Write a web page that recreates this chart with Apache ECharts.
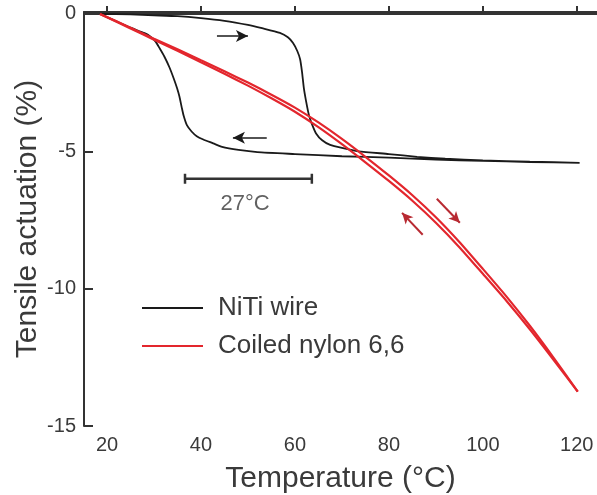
<!DOCTYPE html>
<html>
<head>
<meta charset="utf-8" />
<title>Tensile actuation</title>
<script src="https://cdn.jsdelivr.net/npm/echarts@6/dist/echarts.min.js"></script>
<style>
html, body { margin: 0; padding: 0; background: #fff; }
#chart { width: 597px; height: 495px; }
</style>
</head>
<body>
<div id="chart"></div>
<script>
// tick labels
var xTicks = [20, 40, 60, 80, 100, 120];
var yTicks = [0, -5, -10, -15];

// NiTi wire, heating branch (upper) then cooling branch (lower)
var nitiHeat = [[18.5,0],[25,-0.02],[30,-0.05],[35,-0.08],[40,-0.15],[45,-0.25],[50,-0.4],[53,-0.52],
  [56.8,-0.69],[58.5,-0.85],[59.6,-1.06],[60.5,-1.35],[61.1,-1.65],[61.5,-2.1],[61.9,-2.7],[62.4,-3.2],
  [63.0,-3.7],[63.6,-4.0],[64.5,-4.35],[65.8,-4.6],[67.5,-4.77],[70,-4.88],[73.5,-5.0],[80,-5.1],
  [86,-5.2],[92,-5.27],[100,-5.33],[110,-5.38],[120.6,-5.42]];
var nitiCool = [[120.6,-5.42],[110,-5.39],[100,-5.35],[90,-5.3],[80,-5.23],[70,-5.18],[60,-5.1],[52,-5.03],
  [48,-4.95],[44.5,-4.84],[42.6,-4.71],[40.5,-4.57],[39.1,-4.45],[38,-4.28],[37,-4.05],[36.3,-3.7],
  [35.9,-3.4],[35.4,-3.0],[34.9,-2.7],[34.2,-2.35],[33.3,-1.95],[32.2,-1.55],[31.2,-1.25],[30.3,-1.0],
  [29.2,-0.82],[28,-0.7],[25,-0.5],[22,-0.27],[18.5,0]];

// coiled nylon 6,6, heating and cooling
var nylonHeat = [[18.5,0],[25,-0.5],[30,-0.9],[35,-1.29],[40,-1.69],[45,-2.09],[50,-2.5],[55,-2.94],
  [60,-3.41],[65,-3.95],[70,-4.55],[75,-5.2],[80,-5.88],[85,-6.6],[90,-7.4],[95,-8.3],[100,-9.28],
  [105,-10.28],[110,-11.35],[115,-12.5],[120.2,-13.75]];
var nylonCool = [[120.2,-13.75],[115,-12.58],[110,-11.48],[105,-10.44],[100,-9.46],[95,-8.49],[90,-7.6],
  [85,-6.8],[80,-6.08],[75,-5.4],[70,-4.74],[65,-4.12],[60,-3.56],[55,-3.07],[50,-2.61],[45,-2.18],
  [40,-1.76],[35,-1.34],[30,-0.94],[25,-0.53],[18.5,0]];

// annotations
var scaleBar = [[36.6,-6.0],[63.6,-6.0]];
var scaleLabel = [[49.4,-6.92]];
var arrowsBlack = [[[43.4,-0.8],[50.0,-0.8]], [[54.0,-4.51],[46.8,-4.51]]];
var arrowsRed = [[[90.2,-6.73],[95.1,-7.6]], [[87.2,-8.04],[82.8,-7.24]]];

var textColor = '#3a3a3a';
var axisColor = '#333';
var red = '#e3262d';
var darkRed = '#b82a32';

function arrowData(list) {
  return list.map(function (a) {
    return [{ coord: a[0] }, { coord: a[1] }];
  });
}

var myChart = echarts.init(document.getElementById('chart'));
var option = {
  animation: false,
  grid: { left: 84, right: 0, top: 12, bottom: 69, outerBoundsMode: 'none', containLabel: false },
  legend: {
    orient: 'vertical',
    left: 142,
    top: 295,
    padding: 0,
    itemGap: 12,
    itemWidth: 61,
    itemHeight: 2,
    icon: 'rect',
    data: ['NiTi wire', 'Coiled nylon 6,6'],
    textStyle: { fontFamily: 'Liberation Sans', fontSize: 26, color: textColor, padding: [0, 0, 0, 10] }
  },
  xAxis: [{
    type: 'value',
    min: 15.1,
    max: 124.3,
    minInterval: 20,
    maxInterval: 20,
    name: 'Temperature (°C)',
    nameLocation: 'middle',
    nameGap: 38,
    nameTextStyle: { fontFamily: 'Liberation Sans', fontSize: 30, color: textColor },
    axisLine: { lineStyle: { color: axisColor, width: 2 } },
    axisTick: { inside: true, length: 8, lineStyle: { color: axisColor, width: 2 } },
    axisLabel: {
      margin: 9, fontFamily: 'Liberation Sans', fontSize: 20, color: textColor,
      showMinLabel: false, showMaxLabel: false,
      formatter: function (v) { return xTicks.indexOf(v) >= 0 ? String(v) : ''; }
    },
    splitLine: { show: false }
  }, {
    type: 'value',
    position: 'top',
    min: 15.1,
    max: 124.3,
    axisLine: { show: true, lineStyle: { color: axisColor, width: 2 } },
    axisTick: { show: false },
    axisLabel: { show: false },
    splitLine: { show: false }
  }],
  yAxis: {
    type: 'value',
    min: -15,
    max: 0.07,
    interval: 5,
    name: 'Tensile actuation (%)',
    nameLocation: 'middle',
    nameGap: 41,
    nameMoveOverlap: false,
    nameTextStyle: { fontFamily: 'Liberation Sans', fontSize: 30, color: textColor },
    axisLine: { lineStyle: { color: axisColor, width: 2 } },
    axisTick: { inside: true, length: 9, lineStyle: { color: axisColor, width: 2 } },
    axisLabel: {
      margin: 8, fontFamily: 'Liberation Sans', fontSize: 20, color: textColor,
      showMaxLabel: false,
      formatter: function (v) { return yTicks.indexOf(v) >= 0 ? String(v) : ''; }
    },
    splitLine: { show: false }
  },
  series: [{
    name: 'NiTi wire',
    type: 'line',
    data: nitiHeat.concat(nitiCool),
    showSymbol: false,
    smooth: 0.2,
    color: '#1a1a1a',
    lineStyle: { color: '#1a1a1a', width: 1.8 },
    markLine: {
      silent: true,
      symbol: ['none', 'arrow'],
      symbolSize: [9, 12],
      label: { show: false },
      lineStyle: { color: '#1a1a1a', width: 1.5, type: 'solid' },
      data: arrowData(arrowsBlack)
    }
  }, {
    name: 'Coiled nylon 6,6',
    type: 'line',
    data: nylonHeat,
    showSymbol: false,
    smooth: 0.2,
    color: red,
    lineStyle: { color: red, width: 2.2 },
    markLine: {
      silent: true,
      symbol: ['none', 'arrow'],
      symbolSize: [8, 11],
      label: { show: false },
      lineStyle: { color: darkRed, width: 2, type: 'solid' },
      data: arrowData(arrowsRed)
    }
  }, {
    name: 'Coiled nylon 6,6',
    type: 'line',
    data: nylonCool,
    showSymbol: false,
    smooth: 0.2,
    color: red,
    lineStyle: { color: red, width: 2.2 }
  }, {
    type: 'line',
    data: scaleBar,
    symbol: 'rect',
    symbolSize: [2.5, 10],
    showSymbol: true,
    color: '#333',
    lineStyle: { color: '#333', width: 2.5 },
    silent: true
  }, {
    type: 'scatter',
    data: scaleLabel,
    symbolSize: 0,
    silent: true,
    label: {
      show: true, position: 'inside', formatter: '27°C',
      fontFamily: 'Liberation Sans', fontSize: 22, color: textColor
    }
  }]
};
myChart.setOption(option);
</script>
</body>
</html>
